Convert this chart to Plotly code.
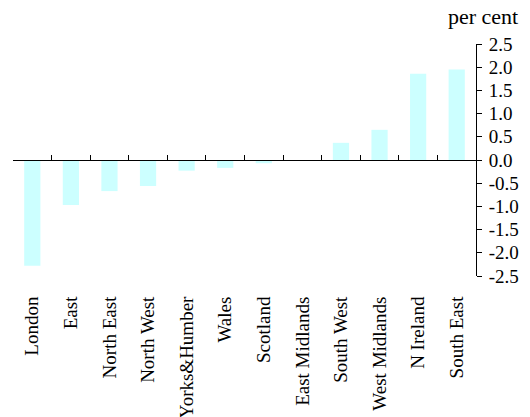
import plotly.graph_objects as go

regions = ["London", "East", "North East", "North West", "Yorks&Humber", "Wales",
           "Scotland", "East Midlands", "South West", "West Midlands", "N Ireland", "South East"]
values = [-2.28, -0.97, -0.67, -0.56, -0.23, -0.17, -0.07, 0.0, 0.37, 0.65, 1.86, 1.95]
y_ticks = [2.5, 2.0, 1.5, 1.0, 0.5, 0.0, -0.5, -1.0, -1.5, -2.0, -2.5]
y_ticktext = [f"{v:.1f}" for v in y_ticks]

font = dict(family="Liberation Serif", size=19, color="black")

fig = go.Figure()
fig.add_trace(go.Bar(x=regions, y=values, marker=dict(color="#CCFFFF", line=dict(width=0)),
                     width=0.42, xaxis="x", yaxis="y"))
fig.add_trace(go.Bar(x=regions, y=[None] * len(regions), xaxis="x2", yaxis="y",
                     showlegend=False, hoverinfo="skip"))

fig.update_layout(
    width=530, height=417,
    margin=dict(l=13, r=54, t=44, b=141, autoexpand=False),
    paper_bgcolor="white", plot_bgcolor="white",
    font=font, showlegend=False, barmode="overlay",
    xaxis=dict(type="category", categoryorder="array", categoryarray=regions,
               showline=False, ticks="outside", ticklen=12, tickcolor="rgba(0,0,0,0)",
               tickangle=-90, showgrid=False,
               zeroline=False, tickfont=font, automargin=False),
    xaxis2=dict(type="category", categoryorder="array", categoryarray=regions,
                overlaying="x", anchor="free", position=0.5, matches="x",
                showline=True, linecolor="black", linewidth=1,
                ticks="inside", tickson="boundaries", ticklen=5, tickcolor="black",
                showticklabels=False, showgrid=False, zeroline=False),
    yaxis=dict(range=[-2.5, 2.5], side="right", showline=True, linecolor="black",
               linewidth=1, ticks="outside", ticklen=5, tickcolor="black",
               ticklabelstandoff=3,
               tickvals=y_ticks, ticktext=y_ticktext, showgrid=False, zeroline=False,
               tickfont=font, anchor="x", automargin=False),
    annotations=[dict(text="per cent", xref="paper", yref="paper", x=1.0, y=1.0,
                      xanchor="right", yanchor="middle", xshift=44, yshift=28,
                      showarrow=False, font=dict(family="Liberation Serif", size=22,
                                                 color="black"))],
)

fig.write_html("out.html", config={"displayModeBar": False},
               post_script="document.body.style.margin='0';document.body.style.overflow='hidden';")
